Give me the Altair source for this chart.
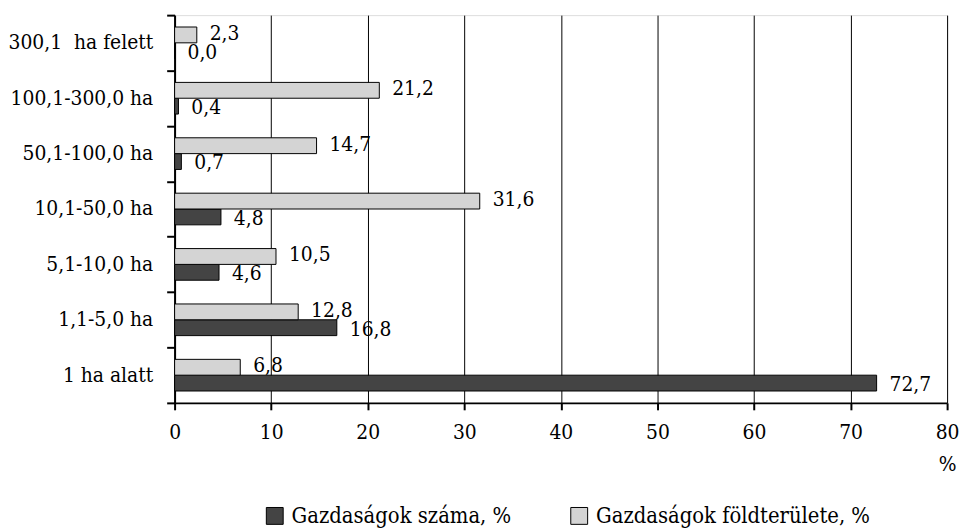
import altair as alt
import pandas as pd

categories = ["300,1\u00a0 ha felett", "100,1-300,0 ha", "50,1-100,0 ha", "10,1-50,0 ha",
              "5,1-10,0 ha", "1,1-5,0 ha", "1 ha alatt"]
szam = [0.0, 0.4, 0.7, 4.8, 4.6, 16.8, 72.7]
fold = [2.3, 21.2, 14.7, 31.6, 10.5, 12.8, 6.8]
series = ["Gazdaságok száma, %", "Gazdaságok földterülete, %"]
x_ticks = [0, 10, 20, 30, 40, 50, 60, 70, 80]

rows = []
for c, a, b in zip(categories, szam, fold):
    rows.append({"cat": c, "series": series[0], "value": a, "label": f"{a:.1f}".replace(".", ",")})
    rows.append({"cat": c, "series": series[1], "value": b, "label": f"{b:.1f}".replace(".", ",")})
df = pd.DataFrame(rows)

FONT = "DejaVu Serif Condensed"
FS = 21
FSL = 22

y_enc = alt.Y("cat:N", sort=categories, title=None,
              scale=alt.Scale(paddingInner=0, paddingOuter=0),
              axis=alt.Axis(tickBand="extent", labelFont=FONT, labelFontSize=FS,
                            labelColor="black", domainColor="black", domainWidth=2,
                            tickColor="black", tickWidth=2, tickSize=8, labelPadding=14,
                            labelLimit=0, grid=False))
yoff_enc = alt.YOffset("series:N", sort=[series[1], series[0]],
                       scale=alt.Scale(paddingInner=0, paddingOuter=0.75))
x_enc = alt.X("value:Q", title="%",
              scale=alt.Scale(domain=[0, 80], nice=False),
              axis=alt.Axis(values=x_ticks, labelFont=FONT, labelFontSize=FS, labelColor="black",
                            labelFlush=False,
                            domainColor="black", domainWidth=2, tickColor="black", tickWidth=2,
                            tickSize=7, labelPadding=12, grid=True, gridColor="black",
                            gridWidth=1, gridOpacity=1,
                            titleFont=FONT, titleFontSize=FS, titleFontWeight="normal",
                            titleColor="black", titleX=779, titleY=68, titleAlign="center",
                            titleBaseline="alphabetic"))

color_enc = alt.Color("series:N", sort=series,
                      scale=alt.Scale(domain=series, range=["#444444", "#d4d4d4"]),
                      legend=alt.Legend(title=None, orient="none", direction="horizontal",
                                        legendX=90, legendY=494, symbolType="square",
                                        symbolSize=289, symbolStrokeColor="black",
                                        symbolStrokeWidth=1, labelFont=FONT, labelFontSize=FSL,
                                        labelColor="black", labelOffset=6, columnPadding=57,
                                        labelLimit=0))

bars = alt.Chart(df).mark_bar(stroke="black", strokeWidth=1).encode(
    y=y_enc, yOffset=yoff_enc, x=x_enc, color=color_enc
)

text_top = alt.Chart(df).transform_filter(alt.datum.series == series[1]).mark_text(
    align="left", baseline="middle", dx=13, dy=-1, font=FONT, fontSize=FS, color="black"
).encode(y=alt.Y("cat:N", sort=categories), yOffset=alt.YOffset("series:N", sort=[series[1], series[0]]),
         x="value:Q", text="label:N")

text_bot = alt.Chart(df).transform_filter(alt.datum.series == series[0]).mark_text(
    align="left", baseline="middle", dx=13, dy=2, font=FONT, fontSize=FS, color="black"
).encode(y=alt.Y("cat:N", sort=categories), yOffset=alt.YOffset("series:N", sort=[series[1], series[0]]),
         x="value:Q", text="label:N")

chart = alt.layer(bars, text_top, text_bot).properties(
    width=779, height=391,
    autosize=alt.AutoSizeParams(type="none"),
    padding={"left": 168, "top": 5, "right": 13, "bottom": 126},
).configure_view(stroke=None).configure(background="white")

chart.save("out.html", embed_options={"renderer": "svg", "actions": False})
